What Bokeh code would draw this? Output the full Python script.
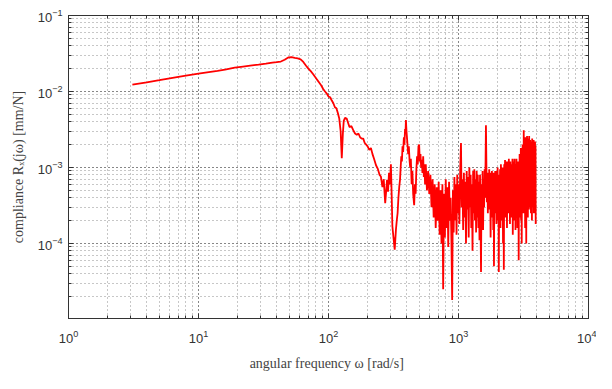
from bokeh.plotting import figure
from bokeh.models import LogAxis, Range1d, CustomJSTickFormatter
from bokeh.embed import file_html
from bokeh.resources import INLINE

# ---- data ----
omega_low = [3.1, 4, 5, 6, 7, 8, 10, 12, 14, 16, 19, 22, 25, 29, 33, 37, 40, 43, 46, 49,
             52, 55, 58, 61, 64, 67, 70, 73, 76, 79, 82, 85, 88, 91, 94, 97, 100, 103, 106, 109,
             112, 115, 118, 121, 124, 126.5, 129, 131, 134, 138, 142, 145, 150, 155, 160, 165, 170, 175, 180, 185,
             190, 195, 200, 206, 212, 218, 224, 232, 240, 247, 253, 260, 266, 273, 278, 282, 287, 292, 297, 302,
             306, 310, 316, 323, 330, 335, 340, 345, 350, 355, 359, 363, 367, 371, 375, 380, 384, 388, 391, 394,
             398, 402, 406, 410, 415, 420, 425, 430, 436, 442, 448, 456, 462, 468, 474, 480, 486, 492, 498, 504,
             510, 516, 522, 528, 535, 541, 547, 553]
compliance_low = [0.0123, 0.0132, 0.0141, 0.0149, 0.0156, 0.0162, 0.0172, 0.0180, 0.0187, 0.0194,
                  0.0206, 0.0213, 0.0219, 0.0226, 0.0233, 0.0240, 0.0244, 0.0248, 0.0262, 0.0280,
                  0.0284, 0.0277, 0.0272, 0.0265, 0.0245, 0.0220, 0.0200, 0.0185, 0.0170, 0.0155,
                  0.0142, 0.0130, 0.0120, 0.0108, 0.0100, 0.0094, 0.0086, 0.0084, 0.0076, 0.0070,
                  0.0062, 0.0060, 0.0052, 0.0044, 0.0030, 0.00132, 0.0028, 0.0041, 0.0045, 0.0044,
                  0.0038, 0.0034, 0.0035, 0.0031, 0.0028, 0.0027, 0.0028, 0.0025, 0.0024, 0.0024,
                  0.0021, 0.0020, 0.0019, 0.0017, 0.0018, 0.0015, 0.0013, 0.00107, 0.00095, 0.00080,
                  0.00076, 0.00055, 0.00070, 0.00034, 0.00050, 0.00069, 0.00048, 0.00085, 0.00060, 0.00110,
                  0.00045, 0.00017, 0.00012, 0.000083, 0.00015, 0.00020, 0.00025, 0.00040, 0.00055, 0.00069,
                  0.00100, 0.00140, 0.00120, 0.00190, 0.00160, 0.00250, 0.00200, 0.00320, 0.00280, 0.00420,
                  0.00300, 0.00240, 0.00190, 0.00150, 0.00190, 0.00126, 0.00100, 0.00130, 0.00060, 0.00090,
                  0.00045, 0.00032, 0.00060, 0.00045, 0.00093, 0.00140, 0.00110, 0.00190, 0.00200, 0.00120,
                  0.00150, 0.00100, 0.00126, 0.00085, 0.00140, 0.00075, 0.00110, 0.00060]

omega_high = [560, 572, 584, 596, 608, 620, 632, 644, 656, 668, 680, 692, 704, 716, 728, 740, 752, 762, 774, 786,
              798, 810, 822, 834, 846, 858, 870, 882, 894, 906, 918, 930, 942, 954, 966, 978, 990, 1002, 1016, 1030,
              1045, 1058, 1072, 1086, 1100, 1114, 1128, 1142, 1156, 1170, 1184, 1198, 1212, 1226, 1240, 1254, 1268, 1282, 1296, 1310,
              1324, 1338, 1352, 1366, 1380, 1394, 1408, 1422, 1436, 1450, 1464, 1478, 1490, 1504, 1518, 1532, 1546, 1560, 1574, 1588,
              1602, 1616, 1626, 1640, 1654, 1668, 1682, 1696, 1710, 1724, 1738, 1752, 1766, 1780, 1794, 1808, 1822, 1836, 1850, 1864,
              1874, 1888, 1902, 1916, 1930, 1944, 1958, 1972, 1986, 2000, 2014, 2028, 2042, 2056, 2072, 2088, 2104, 2120, 2136, 2152,
              2168, 2184, 2200, 2216, 2232, 2248, 2264, 2280, 2296, 2312, 2328, 2344, 2360, 2376, 2392, 2408, 2424, 2440, 2456, 2472,
              2488, 2504, 2520, 2536, 2552, 2568, 2584, 2600, 2616, 2632, 2648, 2664, 2680, 2696, 2712, 2728, 2744, 2760, 2776, 2792,
              2808, 2824, 2840, 2856, 2872, 2888, 2904, 2920, 2936, 2952, 2968, 2984, 3000, 3016, 3032, 3048, 3064, 3080, 3096, 3112,
              3128, 3144, 3160, 3176, 3192, 3208, 3224, 3240, 3256, 3272, 3288, 3304, 3320, 3336, 3352, 3368, 3384, 3400, 3416, 3432,
              3448, 3464, 3480, 3496, 3512, 3528, 3544, 3560, 3576, 3592, 3608, 3624, 3640, 3656, 3672, 3688, 3704, 3720, 3736, 3752,
              3768, 3784, 3800, 3816, 3832, 3848, 3864, 3880, 3896, 3912, 3925]
compliance_high = [1.1e-3, 5.0e-4, 9.0e-4, 4.5e-4, 8.0e-4, 3.0e-4, 7.0e-4, 2.2e-4, 6.0e-4, 1.6e-4,
                   5.5e-4, 2.0e-4, 6.5e-4, 1.3e-4, 5.0e-4, 1.0e-4, 6.0e-4, 2.5e-5, 4.5e-4, 1.2e-4,
                   7.0e-4, 1.6e-4, 5.5e-4, 9.0e-5, 6.5e-4, 2.0e-4, 4.0e-4, 1.1e-4, 1.8e-5, 5.0e-4,
                   1.4e-4, 7.5e-4, 2.0e-4, 6.0e-4, 1.3e-4, 8.0e-4, 2.5e-4, 6.0e-4, 1.8e-4, 9.0e-4,
                   2.1e-3, 3.0e-4, 7.0e-4, 1.5e-4, 8.5e-4, 2.2e-4, 6.5e-4, 1.0e-4, 9.0e-4, 2.8e-4,
                   7.5e-4, 1.2e-4, 1.0e-3, 3.0e-4, 8.0e-4, 1.6e-4, 6.0e-4, 8.0e-5, 9.0e-4, 2.5e-4,
                   9.5e-4, 2.0e-4, 7.0e-4, 1.4e-4, 9.0e-4, 2.2e-4, 8.0e-4, 1.6e-4, 6.5e-4, 1.1e-4,
                   8.0e-4, 2.0e-4, 4.2e-5, 6.0e-4, 2.5e-4, 9.0e-4, 1.5e-4, 7.0e-4, 3.0e-4, 9.5e-4,
                   4.0e-4, 1.3e-3, 3.6e-3, 1.0e-3, 3.5e-4, 8.5e-4, 2.5e-4, 8.0e-4, 3.0e-4, 9.5e-4,
                   2.8e-4, 8.5e-4, 1.2e-4, 7.5e-4, 3.0e-4, 9.0e-4, 2.2e-4, 7.0e-4, 1.5e-4, 8.5e-4,
                   5.0e-5, 7.0e-4, 2.5e-4, 9.0e-4, 3.0e-4, 8.0e-4, 1.8e-4, 9.0e-4, 3.2e-4, 1.0e-3,
                   2.0e-4, 8.0e-4, 4.2e-5, 6.5e-4, 2.8e-4, 9.5e-4, 1.6e-4, 1.1e-3, 3.5e-4, 9.0e-4,
                   2.0e-4, 1.0e-3, 1.0e-4, 7.0e-4, 4.5e-5, 1.1e-3, 3.0e-4, 1.25e-3, 2.2e-4, 1.0e-3,
                   3.5e-4, 1.2e-3, 1.6e-4, 9.0e-4, 4.0e-4, 1.2e-3, 2.5e-4, 1.3e-3, 4.0e-4, 1.0e-3,
                   1.8e-4, 1.2e-3, 3.5e-4, 9.0e-4, 2.2e-4, 1.1e-3, 4.5e-4, 1.3e-3, 1.3e-4, 1.0e-3,
                   3.0e-4, 1.2e-3, 2.0e-4, 1.3e-3, 4.0e-4, 9.0e-4, 1.5e-4, 1.1e-3, 3.5e-4, 1.3e-3,
                   2.5e-4, 1.0e-3, 1.6e-4, 1.2e-3, 3.0e-4, 9.0e-4, 6.0e-5, 1.1e-3, 3.5e-4, 1.5e-3,
                   2.2e-4, 1.3e-3, 4.0e-4, 1.8e-3, 2.0e-4, 1.4e-3, 1.0e-4, 1.6e-3, 3.0e-4, 2.0e-3,
                   4.5e-4, 1.7e-3, 2.5e-4, 3.1e-3, 5.0e-4, 2.2e-3, 3.0e-4, 1.8e-3, 1.6e-4, 2.5e-3,
                   4.0e-4, 1.5e-3, 1.0e-4, 2.0e-3, 3.5e-4, 2.6e-3, 5.0e-4, 1.7e-3, 2.2e-4, 2.4e-3,
                   4.5e-4, 1.9e-3, 2.8e-4, 2.6e-3, 6.0e-4, 2.1e-3, 3.0e-4, 2.3e-3, 5.0e-4, 1.8e-3,
                   2.5e-4, 2.2e-3, 4.0e-4, 1.6e-3, 2.0e-4, 2.4e-3, 5.5e-4, 1.9e-3, 3.0e-4, 2.2e-3,
                   4.5e-4, 2.3e-3, 2.5e-4, 2.0e-3, 5.0e-4, 2.1e-3, 3.0e-4, 2.2e-3, 6.0e-4, 1.9e-3,
                   1.8e-4]

omega = omega_low + omega_high
compliance = compliance_low + compliance_high

x_label = "angular frequency ω  [rad/s]"
y_label = "compliance Rₓ(jω) [mm/N]"

TICK_FONT = "Liberation Sans"
LABEL_FONT = "Liberation Serif"
GRID_COLOR = "#555555"
FRAME_COLOR = "#333333"

p = figure(width=596, height=373, x_axis_type="log", y_axis_type="log",
           x_range=Range1d(1, 1e4), y_range=Range1d(1.03e-5, 1e-1),
           output_backend="svg", toolbar_location=None,
           min_border_left=68, min_border_right=8, min_border_top=15, min_border_bottom=53)

p.line(omega, compliance, line_color="#ff0000", line_width=1.8)

for ax in (p.xaxis[0], p.yaxis[0]):
    ax.ticker.num_minor_ticks = 10
    ax.major_tick_in = 5
    ax.major_tick_out = 0
    ax.minor_tick_in = 3
    ax.minor_tick_out = 0
    ax.axis_line_color = FRAME_COLOR
    ax.major_tick_line_color = FRAME_COLOR
    ax.minor_tick_line_color = FRAME_COLOR
    ax.major_label_text_font = TICK_FONT
    ax.major_label_text_font_size = "13px"
    ax.major_label_text_color = "#333333"
    ax.axis_label_text_font = LABEL_FONT
    ax.axis_label_text_font_size = "14px"
    ax.axis_label_text_font_style = "normal"
    ax.axis_label_text_color = "#444444"

p.xaxis.axis_label = x_label
p.yaxis.axis_label = y_label
p.xaxis.major_label_standoff = 11
p.xaxis.axis_label_standoff = 10
p.yaxis.major_label_standoff = 6
p.yaxis.axis_label_standoff = 9

blank = CustomJSTickFormatter(code="return ''")
top = LogAxis(formatter=blank, major_label_standoff=0)
right = LogAxis(formatter=blank, major_label_standoff=0)
for ax in (top, right):
    ax.ticker.num_minor_ticks = 10
    ax.major_tick_in = 5
    ax.major_tick_out = 0
    ax.minor_tick_in = 3
    ax.minor_tick_out = 0
    ax.axis_line_color = FRAME_COLOR
    ax.major_tick_line_color = FRAME_COLOR
    ax.minor_tick_line_color = FRAME_COLOR
p.add_layout(top, "above")
p.add_layout(right, "right")

for g in (p.xgrid[0], p.ygrid[0]):
    g.grid_line_color = GRID_COLOR
    g.grid_line_dash = "1 3"
    g.grid_line_alpha = 0.65
    g.minor_grid_line_color = GRID_COLOR
    g.minor_grid_line_dash = "1 3"
    g.minor_grid_line_alpha = 0.65

p.outline_line_color = FRAME_COLOR
p.background_fill_color = "white"
p.border_fill_color = "white"

open("out.html", "w").write(file_html(p, INLINE))
